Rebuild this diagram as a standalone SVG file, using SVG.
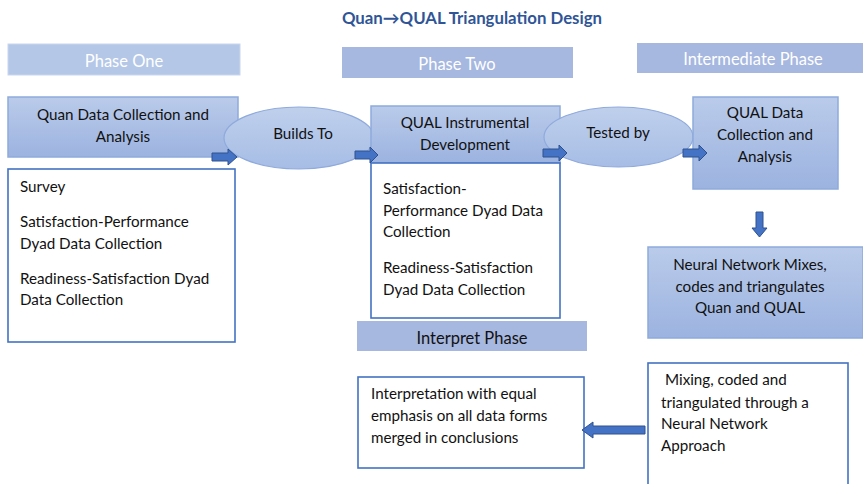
<svg xmlns="http://www.w3.org/2000/svg" width="863" height="484" viewBox="0 0 863 484">
<defs>
<linearGradient id="g" x1="0" y1="0" x2="0" y2="1">
<stop offset="0" stop-color="#BACBEA"/>
<stop offset="1" stop-color="#9CB3E0"/>
</linearGradient>
<linearGradient id="ge" x1="0" y1="0" x2="0" y2="1">
<stop offset="0" stop-color="#BFD0EC"/>
<stop offset="1" stop-color="#A7BDE5"/>
</linearGradient>
</defs>
<style>
text{font-family:Lato,"Liberation Sans",sans-serif;font-size:15.2px;fill:#111111}
.title{font-size:16.8px;font-weight:bold;fill:#2F5597}
.ph{font-size:16.5px;fill:#ffffff}
.phd{font-size:16.5px;fill:#111111}
.c{text-anchor:middle}
.grad{fill:url(#g);stroke:#8FAADC;stroke-width:1.5}
.ell{fill:url(#ge);stroke:#8FAADC;stroke-width:1.2}
.white{fill:#ffffff;stroke:#4472C4;stroke-width:1.6}
.arrow{fill:#4472C4;stroke:#2F528F;stroke-width:1}
</style>
<rect width="863" height="484" fill="#ffffff"/>
<text class="title c" x="472" y="24">Quan→QUAL Triangulation Design</text>

<g id="phase-one">
<rect x="8" y="44" width="232" height="31" fill="#B4C7E7" stroke="#C9D7EF" stroke-width="1"/>
<text class="ph c" x="124" y="67">Phase One</text>
</g>
<g id="phase-two">
<rect x="342" y="47" width="231" height="31" fill="#A6B7E0"/>
<text class="ph c" x="457" y="70">Phase Two</text>
</g>
<g id="intermediate-phase">
<rect x="637" y="43" width="226" height="30" fill="#A6B7E0"/>
<text class="ph c" x="753" y="65">Intermediate Phase</text>
</g>

<g id="quan-collection">
<rect class="grad" x="8" y="97" width="230" height="60"/>
<text class="c" x="123" y="120">Quan Data Collection and</text>
<text class="c" x="123" y="142">Analysis</text>
</g>
<g id="builds-to">
<ellipse class="ell" cx="299" cy="138" rx="75" ry="31"/>
<text class="c" x="303" y="139">Builds To</text>
</g>
<g id="qual-instrumental">
<rect class="grad" x="371" y="106" width="189" height="57"/>
<text class="c" x="465" y="128">QUAL Instrumental</text>
<text class="c" x="465" y="150">Development</text>
</g>
<g id="tested-by">
<ellipse class="ell" cx="618.5" cy="137" rx="74.5" ry="30"/>
<text class="c" x="618" y="138">Tested by</text>
</g>
<g id="qual-collection">
<rect class="grad" x="693" y="97" width="145" height="92"/>
<text class="c" x="765" y="118">QUAL Data</text>
<text class="c" x="765" y="140">Collection and</text>
<text class="c" x="765" y="162">Analysis</text>
</g>

<g id="survey-list">
<rect class="white" x="8" y="169" width="227" height="173"/>
<text x="20" y="192">Survey</text>
<text x="20" y="227">Satisfaction-Performance</text>
<text x="20" y="249">Dyad Data Collection</text>
<text x="20" y="284">Readiness-Satisfaction Dyad</text>
<text x="20" y="305">Data Collection</text>
</g>
<g id="phase-two-list">
<rect class="white" x="371" y="163" width="189" height="155"/>
<text x="383" y="194">Satisfaction-</text>
<text x="383" y="216">Performance Dyad Data</text>
<text x="383" y="237">Collection</text>
<text x="383" y="273">Readiness-Satisfaction</text>
<text x="383" y="295">Dyad Data Collection</text>
</g>
<g id="interpret-phase">
<rect x="357" y="321" width="230" height="30" fill="#A6B7E0"/>
<text class="phd c" x="472" y="344">Interpret Phase</text>
</g>
<g id="neural-network">
<rect class="grad" x="648" y="247" width="215" height="91"/>
<text class="c" x="750" y="270">Neural Network Mixes,</text>
<text class="c" x="750" y="292">codes and triangulates</text>
<text class="c" x="750" y="313">Quan and QUAL</text>
</g>
<g id="interpretation">
<rect class="white" x="358" y="377" width="226" height="91"/>
<text x="371" y="399">Interpretation with equal</text>
<text x="371" y="421">emphasis on all data forms</text>
<text x="371" y="443">merged in conclusions</text>
</g>
<g id="mixing">
<rect class="white" x="648" y="363" width="200" height="130"/>
<text x="665" y="385">Mixing, coded and</text>
<text x="661" y="408">triangulated through a</text>
<text x="661" y="429">Neural Network</text>
<text x="661" y="451">Approach</text>
</g>

<g id="connectors">
<path class="arrow" d="M212,153 H228 V149 L237,157 L228,165 V161 H212 Z"/>
<path class="arrow" d="M355,151 H370 V147 L378,155 L370,163 V159 H355 Z"/>
<path class="arrow" d="M543,149 H559 V145 L567,153 L559,161 V157 H543 Z"/>
<path class="arrow" d="M683,149 H699 V145 L707,153 L699,161 V157 H683 Z"/>
<path class="arrow" d="M756,212 V228 H752 L759.5,237 L767,228 H763 V212 Z"/>
<path class="arrow" d="M645,426 H593 V422 L582,430 L593,438 V434 H645 Z"/>
</g>
</svg>
